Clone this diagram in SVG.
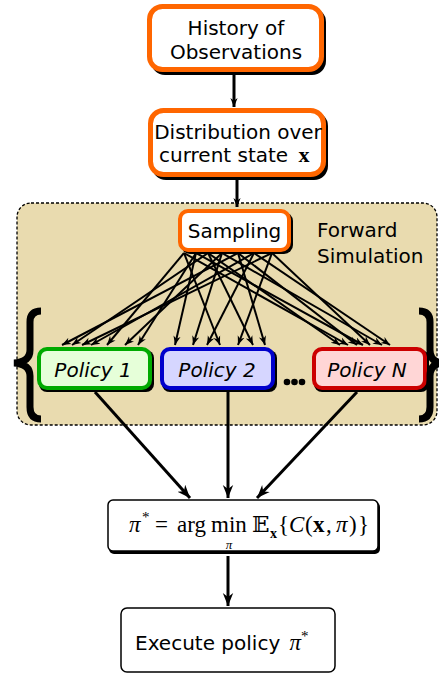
<svg xmlns="http://www.w3.org/2000/svg" width="439" height="675" viewBox="0 0 439 675">
<defs>
<style>
.t{font-family:"DejaVu Sans","Liberation Sans",sans-serif;font-size:20px;fill:#000}
.pt{font-family:"DejaVu Sans","Liberation Sans",sans-serif;font-size:20px;font-style:italic;fill:#000}
.m{font-family:"Liberation Serif","DejaVu Serif",serif;fill:#000}
.sh{fill:#000}
.ob{fill:#fff;stroke:#ff6600;stroke-width:5}
.fan{stroke:#000;stroke-width:2;fill:none}
.thk{stroke:#000;stroke-width:3;fill:none}
</style>
<marker id="ah" viewBox="0 0 10 10" refX="10" refY="5" markerWidth="9" markerHeight="9" markerUnits="userSpaceOnUse" orient="auto"><path d="M0,1 L10,5 L0,9 L3,5 Z" fill="#000"/></marker>
<marker id="ahb" viewBox="0 0 10 10" refX="10" refY="5" markerWidth="13" markerHeight="13" markerUnits="userSpaceOnUse" orient="auto"><path d="M0,1 L10,5 L0,9 L3,5 Z" fill="#000"/></marker>
</defs>

<g id="forward-simulation">
<rect x="17" y="203" width="420" height="222" rx="14" fill="#e9dbaf" stroke="#000" stroke-width="1.3" stroke-dasharray="3,2"/>
<text class="t" x="317" y="237">Forward</text>
<text class="t" x="317" y="263">Simulation</text>
</g>

<g id="connectors">
<line class="thk" x1="234" y1="74" x2="234" y2="107" marker-end="url(#ah)"/>
<line class="thk" x1="237" y1="180" x2="237" y2="207" marker-end="url(#ah)"/>
<g id="fan">
<line class="fan" x1="184" y1="253" x2="107" y2="345" marker-end="url(#ah)"/>
<line class="fan" x1="196" y1="253" x2="138" y2="345" marker-end="url(#ah)"/>
<line class="fan" x1="208" y1="253" x2="72" y2="345" marker-end="url(#ah)"/>
<line class="fan" x1="222" y1="253" x2="125" y2="345" marker-end="url(#ah)"/>
<line class="fan" x1="238" y1="253" x2="62" y2="345" marker-end="url(#ah)"/>
<line class="fan" x1="254" y1="253" x2="91" y2="345" marker-end="url(#ah)"/>
<line class="fan" x1="272" y1="253" x2="82" y2="345" marker-end="url(#ah)"/>
<line class="fan" x1="184" y1="253" x2="220" y2="345" marker-end="url(#ah)"/>
<line class="fan" x1="196" y1="253" x2="175" y2="345" marker-end="url(#ah)"/>
<line class="fan" x1="208" y1="253" x2="253" y2="345" marker-end="url(#ah)"/>
<line class="fan" x1="222" y1="253" x2="193" y2="345" marker-end="url(#ah)"/>
<line class="fan" x1="238" y1="253" x2="265" y2="345" marker-end="url(#ah)"/>
<line class="fan" x1="254" y1="253" x2="207" y2="345" marker-end="url(#ah)"/>
<line class="fan" x1="272" y1="253" x2="238" y2="345" marker-end="url(#ah)"/>
<line class="fan" x1="184" y1="253" x2="348" y2="345" marker-end="url(#ah)"/>
<line class="fan" x1="196" y1="253" x2="363" y2="345" marker-end="url(#ah)"/>
<line class="fan" x1="208" y1="253" x2="340" y2="345" marker-end="url(#ah)"/>
<line class="fan" x1="222" y1="253" x2="382" y2="345" marker-end="url(#ah)"/>
<line class="fan" x1="238" y1="253" x2="357" y2="345" marker-end="url(#ah)"/>
<line class="fan" x1="254" y1="253" x2="390" y2="345" marker-end="url(#ah)"/>
<line class="fan" x1="272" y1="253" x2="370" y2="345" marker-end="url(#ah)"/>
</g>
<line class="thk" x1="95" y1="392" x2="190" y2="498" marker-end="url(#ahb)"/>
<line class="thk" x1="228" y1="392" x2="228" y2="498" marker-end="url(#ahb)"/>
<line class="thk" x1="357" y1="392" x2="257" y2="498" marker-end="url(#ahb)"/>
<line class="thk" x1="228" y1="556" x2="228" y2="606" stroke-width="4" marker-end="url(#ahb)"/>
</g>

<g id="history">
<rect class="sh" x="151" y="8" width="175" height="67" rx="14"/>
<rect class="ob" x="149.5" y="6.5" width="172" height="63" rx="13"/>
<text class="t" x="236" y="35" text-anchor="middle" font-size="19">History of</text>
<text class="t" x="236" y="59" text-anchor="middle" font-size="19">Observations</text>
</g>

<g id="distribution">
<rect class="sh" x="152" y="112" width="176" height="68" rx="14"/>
<rect class="ob" x="150.5" y="110.5" width="173" height="64" rx="13"/>
<text class="t" x="238" y="139" text-anchor="middle" font-size="19">Distribution over</text>
<text class="t" x="159" y="162" font-size="19">current state <tspan class="m" font-weight="bold" font-size="22" dx="4">x</tspan></text>
</g>

<g id="sampling">
<rect class="sh" x="181" y="212" width="112" height="42" rx="9"/>
<rect fill="#fff" stroke="#ff6600" stroke-width="4" x="180" y="211" width="109" height="39" rx="8"/>
<text class="t" x="234.5" y="238" text-anchor="middle" font-size="20.5">Sampling</text>
</g>

<g id="policy-1">
<rect class="sh" x="39" y="350" width="115" height="42" rx="8"/>
<rect x="39" y="349" width="111" height="39" rx="8" fill="#e6ffd9" stroke="#00aa00" stroke-width="4"/>
<text class="pt" x="93" y="377" text-anchor="middle">Policy 1</text>
</g>

<g id="policy-2">
<rect class="sh" x="162" y="350" width="115" height="42" rx="8"/>
<rect x="162" y="349" width="111" height="39" rx="8" fill="#d6d6ff" stroke="#0000cc" stroke-width="4"/>
<text class="pt" x="217" y="377" text-anchor="middle">Policy 2</text>
</g>

<g id="ellipsis">
<circle cx="287" cy="382" r="3.3"/>
<circle cx="294.5" cy="382" r="3.3"/>
<circle cx="302" cy="382" r="3.3"/>
</g>

<g id="policy-n">
<rect class="sh" x="314" y="350" width="115" height="42" rx="8"/>
<rect x="314" y="349" width="111" height="39" rx="8" fill="#ffd6d6" stroke="#cc0000" stroke-width="4"/>
<text class="pt" x="367" y="377" text-anchor="middle">Policy N</text>
</g>

<g id="braces" fill="none" stroke="#000" stroke-width="7">
<path d="M41,311 Q30,311 30,322 L30,350 Q30,362 14,363 Q30,364 30,376 L30,407 Q30,419 41,419"/>
<path d="M419,311 Q430,311 430,322 L430,350 Q430,362 442,363 Q430,364 430,376 L430,407 Q430,419 419,419"/>
</g>

<g id="argmin">
<rect x="109" y="502" width="271" height="52" rx="5" fill="#000"/>
<rect x="108" y="500" width="270" height="51" rx="5" fill="#fff" stroke="#000" stroke-width="1.5"/>
<text class="m" font-size="23"><tspan x="129" y="532" font-style="italic">π</tspan><tspan x="142" y="522" font-size="15">*</tspan><tspan x="155" y="532">=</tspan><tspan x="177" y="532">arg</tspan><tspan x="211" y="532">min</tspan><tspan x="252" y="532">𝔼</tspan><tspan x="270" y="538" font-size="14" font-weight="bold">x</tspan><tspan x="278" y="532">{</tspan><tspan x="289" y="532" font-style="italic">C</tspan><tspan x="305" y="532">(</tspan><tspan x="313" y="532" font-weight="bold">x</tspan><tspan x="326" y="532">,</tspan><tspan x="336" y="532" font-style="italic">π</tspan><tspan x="349" y="532">)</tspan><tspan x="358" y="532">}</tspan></text>
<text class="m" x="229" y="549" font-size="13" font-style="italic" text-anchor="middle">π</text>
</g>

<g id="execute">
<rect x="121" y="608" width="214" height="64" rx="6" fill="#fff" stroke="#000" stroke-width="1.5"/>
<text class="t" x="135" y="650">Execute policy <tspan class="m" font-style="italic" font-size="23" dx="3">π</tspan><tspan class="m" font-size="15" dy="-9">*</tspan></text>
</g>
</svg>
